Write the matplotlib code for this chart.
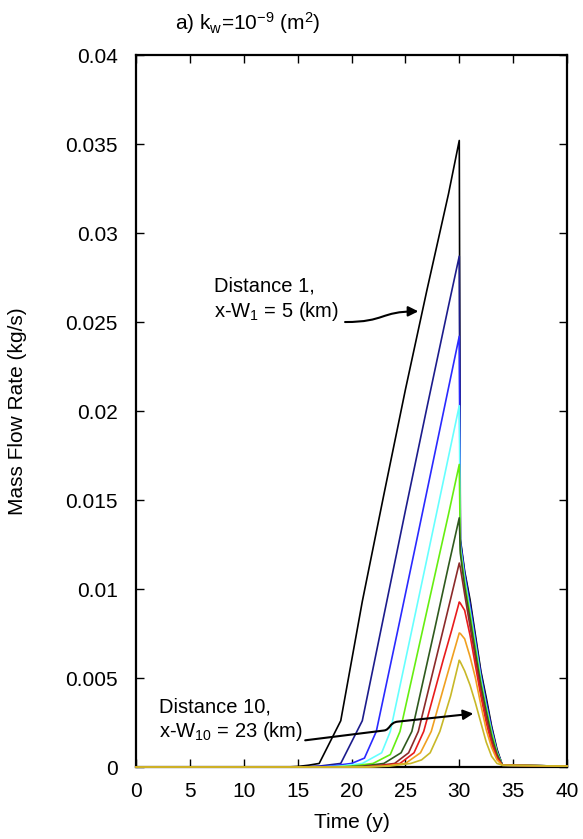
import matplotlib
matplotlib.use("Agg")
import matplotlib.pyplot as plt
from matplotlib.patches import FancyArrowPatch
from matplotlib.path import Path
import numpy as np

plt.rcParams['font.family'] = ['Liberation Sans', 'DejaVu Sans']
plt.rcParams['mathtext.fontset'] = 'custom'
plt.rcParams['mathtext.rm'] = 'Liberation Sans'
plt.rcParams['mathtext.it'] = 'Liberation Sans'

colors = ['#000000', '#1c1c8c', '#2a2aff', '#66ffff', '#66ee11',
          '#2f5a1e', '#8c2a2a', '#e81c1c', '#f0a020', '#c8b828']

# rising part (time in years, mass flow rate kg/s)
rise_t = [
    [0, 14, 15, 16, 17, 19, 21, 23, 25, 27, 29, 30],
    [0, 15, 17, 19, 21, 23, 25, 27, 29, 30],
    [0, 16, 18, 20, 21.2, 22.3, 24.3, 26, 28, 30],
    [0, 17, 19, 21, 22.8, 23.6, 25.6, 27, 28.5, 30],
    [0, 18, 20, 22, 23.6, 24.5, 26.6, 28, 29, 30],
    [0, 19, 21, 23, 24.6, 25.6, 27.7, 29, 30],
    [0, 20, 22, 24, 25.3, 26.2, 28.5, 29.3, 30],
    [0, 21, 22.5, 24.5, 25.8, 26.7, 28.5, 29.3, 30],
    [0, 21, 23, 25, 26.4, 27.4, 28.8, 30],
    [0, 21.5, 23.5, 25.5, 26.5, 27.3, 28.2, 29.2, 30],
]
rise_v = [
    [0, 0, 0.00003, 0.0001, 0.0002, 0.0026, 0.0093, 0.0153, 0.0212, 0.0268, 0.0322, 0.0352],
    [0, 0, 0.00005, 0.0002, 0.0026, 0.0085, 0.0144, 0.0202, 0.0259, 0.0287],
    [0, 0, 0.00005, 0.0002, 0.0005, 0.0020, 0.0077, 0.0126, 0.0184, 0.0242],
    [0, 0, 0.00005, 0.0002, 0.0008, 0.0020, 0.0077, 0.0117, 0.0160, 0.0203],
    [0, 0, 0.00005, 0.0002, 0.0007, 0.0020, 0.0077, 0.0115, 0.0142, 0.0170],
    [0, 0, 0.00005, 0.0002, 0.0008, 0.0020, 0.0077, 0.0113, 0.0140],
    [0, 0, 0.00005, 0.0002, 0.0008, 0.0020, 0.0077, 0.0097, 0.01146],
    [0, 0, 0.00005, 0.0002, 0.0008, 0.0020, 0.0060, 0.0077, 0.00927],
    [0, 0, 0.00005, 0.0002, 0.0008, 0.0020, 0.0050, 0.00753],
    [0, 0, 0.00005, 0.0002, 0.0004, 0.0008, 0.0020, 0.0040, 0.0060],
]

# decay part after t = 30 y
decay_t = [30.1, 30.5, 31, 31.5, 32, 32.5, 33, 33.5, 34, 40]
decay_v = [
    [0.0128, 0.0110, 0.0094, 0.0074, 0.0054, 0.0039, 0.0023, 0.0010, 0.0001, 0.00005],
    [0.0127, 0.0109, 0.0092, 0.0072, 0.0053, 0.0037, 0.0022, 0.0009, 0.0001, 0.00005],
    [0.0126, 0.0108, 0.0090, 0.0071, 0.0051, 0.0036, 0.0021, 0.0009, 0.0001, 0.00005],
    [0.0124, 0.0106, 0.0088, 0.0069, 0.0050, 0.0034, 0.0020, 0.0008, 0.0001, 0.00005],
    [0.0122, 0.0104, 0.0086, 0.0067, 0.0048, 0.0033, 0.0019, 0.0008, 0.0001, 0.00005],
    [0.0120, 0.0101, 0.0083, 0.0064, 0.0046, 0.0031, 0.0017, 0.0007, 0.0001, 0.00005],
    [0.0112, 0.0097, 0.0079, 0.0061, 0.0043, 0.0028, 0.0015, 0.0006, 0.0001, 0.00005],
    [0.0092, 0.0088, 0.0074, 0.0057, 0.0040, 0.0025, 0.0013, 0.0005, 0.0001, 0.00005],
    [0.0075, 0.0072, 0.0062, 0.0050, 0.0035, 0.0021, 0.0011, 0.0004, 0.0001, 0.00005],
    [0.0059, 0.0054, 0.0046, 0.0036, 0.0025, 0.0014, 0.0006, 0.0002, 0.0001, 0.00005],
]

xticks = [0, 5, 10, 15, 20, 25, 30, 35, 40]
yticks = [0, 0.005, 0.01, 0.015, 0.02, 0.025, 0.03, 0.035, 0.04]
yticklabels = ['0', '0.005', '0.01', '0.015', '0.02', '0.025', '0.03', '0.035', '0.04']

fig = plt.figure(figsize=(5.83, 8.39), dpi=100)
ax = fig.add_axes([0.2333, 0.0858, 0.7393, 0.8486])

for i in range(len(colors)):
    t = list(rise_t[i]) + list(decay_t)
    v = list(rise_v[i]) + list(decay_v[i])
    ax.plot(t, v, color=colors[i], lw=1.2, zorder=3, clip_on=False)

ax.set_xlim(0, 40)
ax.set_ylim(0, 0.04)
ax.set_xticks(xticks)
ax.set_xticklabels([str(x) for x in xticks])
ax.set_yticks(yticks)
ax.set_yticklabels(yticklabels)
ax.tick_params(direction='in', length=6, width=1.0, top=True, right=True,
               labelsize=15)
ax.tick_params(axis='y', pad=13)
ax.tick_params(axis='x', pad=11)
for s in ax.spines.values():
    s.set_linewidth(1.6)

ax.set_xlabel('Time (y)', fontsize=15)
ax.xaxis.set_label_coords(0.5, -0.065)
ax.set_ylabel('Mass Flow Rate (kg/s)', fontsize=15)
ax.yaxis.set_label_coords(-0.252, 0.5)
fig.text(0.300, 0.9726, r'a) k$_\mathrm{w}$=10$^{\mathrm{-9}}$ (m$^\mathrm{2}$)', fontsize=15,
         ha='left', va='center')

ax.text(7.2, 0.0270, 'Distance 1,', fontsize=14.5, ha='left', va='center')
ax.text(7.2, 0.0256, r'x-W$_\mathrm{1}$ = 5 (km)', fontsize=14.5, ha='left', va='center')
p1 = Path([(19.4, 0.0250), (23.2, 0.02500), (22.6, 0.0256), (26.2, 0.0256)],
          [Path.MOVETO, Path.CURVE4, Path.CURVE4, Path.CURVE4])
ax.add_patch(FancyArrowPatch(path=p1, arrowstyle='-|>', color='black', lw=1.5,
                             mutation_scale=15, zorder=5))

ax.text(2.1, 0.00337, 'Distance 10,', fontsize=14.5, ha='left', va='center')
ax.text(2.1, 0.0020, r'x-W$_{\mathrm{10}}$ = 23 (km)', fontsize=14.5, ha='left', va='center')
p2 = Path([(15.7, 0.0015), (23.0, 0.00205), (23.6, 0.00209), (23.5, 0.00250),
           (24.3, 0.00255), (31.3, 0.0030)],
          [Path.MOVETO, Path.LINETO, Path.CURVE4, Path.CURVE4, Path.CURVE4,
           Path.LINETO])
ax.add_patch(FancyArrowPatch(path=p2, arrowstyle='-|>', color='black', lw=1.5,
                             mutation_scale=15, zorder=5))

fig.savefig('out.png', dpi=100)
